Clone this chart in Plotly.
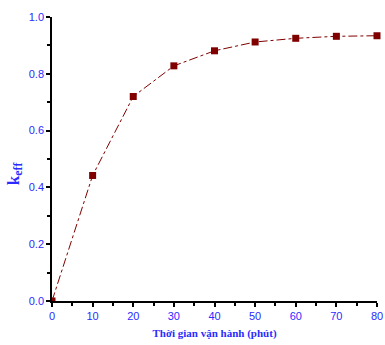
import plotly.graph_objects as go

time_min = [0, 10, 20, 30, 40, 50, 60, 70, 80]
k_eff = [0.0, 0.442, 0.720, 0.828, 0.881, 0.912, 0.925, 0.932, 0.934]

color = "#800000"
blue = "#2b2bff"

fig = go.Figure()
fig.add_trace(go.Scatter(x=time_min, y=k_eff, mode="lines",
                         line=dict(color=color, width=1, dash="dashdot"),
                         showlegend=False))
fig.add_trace(go.Scatter(x=time_min[1:], y=k_eff[1:], mode="markers",
                         marker=dict(symbol="square", size=7, color=color),
                         cliponaxis=False, showlegend=False))
fig.add_trace(go.Scatter(x=time_min[:1], y=k_eff[:1], mode="markers",
                         marker=dict(symbol="square", size=7, color=color),
                         cliponaxis=True, showlegend=False))

axis_common = dict(showline=True, linecolor="black", linewidth=1.5,
                   ticks="outside", ticklen=4, tickwidth=1.5, tickcolor="black",
                   showgrid=False, zeroline=False, automargin=False,
                   tickfont=dict(family="Liberation Sans, Arial", size=11, color=blue))

fig.update_xaxes(range=[0, 80], tickmode="array", tickvals=list(range(0, 81, 10)),
                 minor=dict(ticks="outside", ticklen=3, tickwidth=1.5, tickcolor="black", dtick=5, tick0=0),
                 title=dict(text="Thời gian vận hành (phút)", standoff=8,
                            font=dict(family="Liberation Serif, Times New Roman", size=11, color=blue, weight="bold")),
                 **axis_common)
fig.update_yaxes(range=[0, 1], dtick=0.2, tickformat=".1f",
                 minor=dict(ticks="outside", ticklen=3, tickwidth=1.5, tickcolor="black", dtick=0.1, tick0=0),
                 **axis_common)

fig.add_annotation(text="k<sub>eff</sub>", xref="paper", yref="paper",
                   x=-0.114, y=0.45, textangle=-90, showarrow=False,
                   xanchor="center", yanchor="middle",
                   font=dict(family="Liberation Serif, Times New Roman", size=17, color=blue, weight="bold"))

fig.update_layout(width=385, height=345, margin=dict(l=52, r=8, t=17, b=44),
                  plot_bgcolor="white", paper_bgcolor="white")

fig.write_html("out.html")
